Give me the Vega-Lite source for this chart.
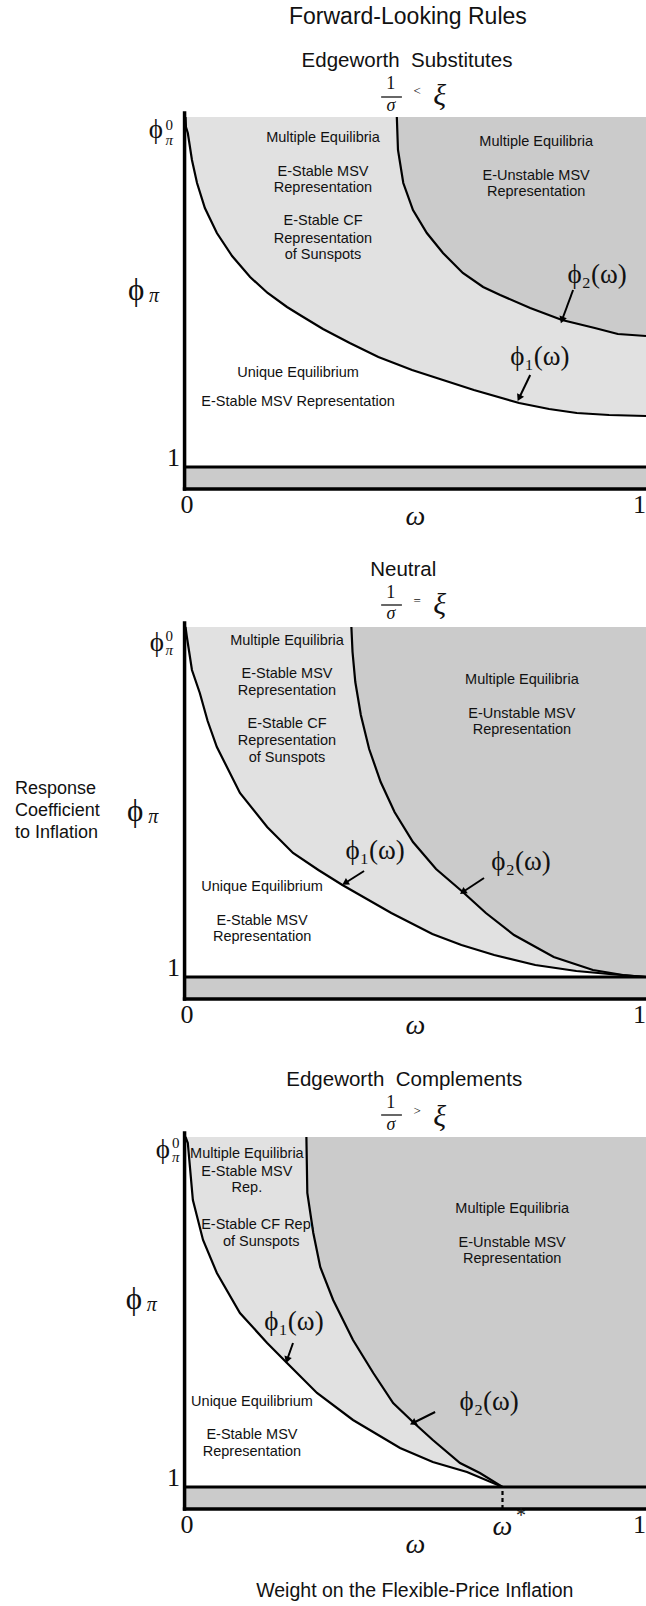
{
  "$schema": "https://vega.github.io/schema/vega-lite/v6.json",
  "padding": 0,
  "background": "white",
  "autosize": {"type": "pad"},
  "config": {"view": {"stroke": null}},
  "data": {"values": [
    {"set":"c","panel":1,"curve":"phi1","x":0.002,"y":4.50},
    {"set":"c","panel":1,"curve":"phi1","x":0.003,"y":4.40},
    {"set":"c","panel":1,"curve":"phi1","x":0.007,"y":4.34},
    {"set":"c","panel":1,"curve":"phi1","x":0.016,"y":4.07},
    {"set":"c","panel":1,"curve":"phi1","x":0.027,"y":3.84},
    {"set":"c","panel":1,"curve":"phi1","x":0.044,"y":3.59},
    {"set":"c","panel":1,"curve":"phi1","x":0.070,"y":3.34},
    {"set":"c","panel":1,"curve":"phi1","x":0.103,"y":3.11},
    {"set":"c","panel":1,"curve":"phi1","x":0.142,"y":2.90},
    {"set":"c","panel":1,"curve":"phi1","x":0.180,"y":2.74},
    {"set":"c","panel":1,"curve":"phi1","x":0.222,"y":2.60},
    {"set":"c","panel":1,"curve":"phi1","x":0.250,"y":2.52},
    {"set":"c","panel":1,"curve":"phi1","x":0.300,"y":2.38},
    {"set":"c","panel":1,"curve":"phi1","x":0.358,"y":2.24},
    {"set":"c","panel":1,"curve":"phi1","x":0.420,"y":2.10},
    {"set":"c","panel":1,"curve":"phi1","x":0.493,"y":1.97},
    {"set":"c","panel":1,"curve":"phi1","x":0.560,"y":1.87},
    {"set":"c","panel":1,"curve":"phi1","x":0.627,"y":1.77},
    {"set":"c","panel":1,"curve":"phi1","x":0.725,"y":1.64},
    {"set":"c","panel":1,"curve":"phi1","x":0.790,"y":1.58},
    {"set":"c","panel":1,"curve":"phi1","x":0.850,"y":1.54},
    {"set":"c","panel":1,"curve":"phi1","x":0.920,"y":1.52},
    {"set":"c","panel":1,"curve":"phi1","x":1.000,"y":1.51},
    {"set":"c","panel":1,"curve":"phi2","x":0.460,"y":4.50},
    {"set":"c","panel":1,"curve":"phi2","x":0.4625,"y":4.17},
    {"set":"c","panel":1,"curve":"phi2","x":0.474,"y":3.84},
    {"set":"c","panel":1,"curve":"phi2","x":0.495,"y":3.57},
    {"set":"c","panel":1,"curve":"phi2","x":0.525,"y":3.34},
    {"set":"c","panel":1,"curve":"phi2","x":0.560,"y":3.14},
    {"set":"c","panel":1,"curve":"phi2","x":0.603,"y":2.94},
    {"set":"c","panel":1,"curve":"phi2","x":0.647,"y":2.80},
    {"set":"c","panel":1,"curve":"phi2","x":0.684,"y":2.72},
    {"set":"c","panel":1,"curve":"phi2","x":0.749,"y":2.59},
    {"set":"c","panel":1,"curve":"phi2","x":0.818,"y":2.47},
    {"set":"c","panel":1,"curve":"phi2","x":0.889,"y":2.39},
    {"set":"c","panel":1,"curve":"phi2","x":0.939,"y":2.33},
    {"set":"c","panel":1,"curve":"phi2","x":0.970,"y":2.32},
    {"set":"c","panel":1,"curve":"phi2","x":1.000,"y":2.31},
    {"set":"c","panel":2,"curve":"phi1","x":0.002,"y":4.50},
    {"set":"c","panel":2,"curve":"phi1","x":0.005,"y":4.40},
    {"set":"c","panel":2,"curve":"phi1","x":0.016,"y":4.07},
    {"set":"c","panel":2,"curve":"phi1","x":0.033,"y":3.84},
    {"set":"c","panel":2,"curve":"phi1","x":0.050,"y":3.56},
    {"set":"c","panel":2,"curve":"phi1","x":0.070,"y":3.30},
    {"set":"c","panel":2,"curve":"phi1","x":0.120,"y":2.84},
    {"set":"c","panel":2,"curve":"phi1","x":0.179,"y":2.50},
    {"set":"c","panel":2,"curve":"phi1","x":0.235,"y":2.24},
    {"set":"c","panel":2,"curve":"phi1","x":0.290,"y":2.07},
    {"set":"c","panel":2,"curve":"phi1","x":0.342,"y":1.92},
    {"set":"c","panel":2,"curve":"phi1","x":0.448,"y":1.64},
    {"set":"c","panel":2,"curve":"phi1","x":0.537,"y":1.43},
    {"set":"c","panel":2,"curve":"phi1","x":0.600,"y":1.32},
    {"set":"c","panel":2,"curve":"phi1","x":0.671,"y":1.22},
    {"set":"c","panel":2,"curve":"phi1","x":0.760,"y":1.12},
    {"set":"c","panel":2,"curve":"phi1","x":0.849,"y":1.06},
    {"set":"c","panel":2,"curve":"phi1","x":0.920,"y":1.03},
    {"set":"c","panel":2,"curve":"phi1","x":1.000,"y":1.00},
    {"set":"c","panel":2,"curve":"phi2","x":0.3615,"y":4.50},
    {"set":"c","panel":2,"curve":"phi2","x":0.364,"y":4.25},
    {"set":"c","panel":2,"curve":"phi2","x":0.370,"y":3.95},
    {"set":"c","panel":2,"curve":"phi2","x":0.382,"y":3.62},
    {"set":"c","panel":2,"curve":"phi2","x":0.400,"y":3.28},
    {"set":"c","panel":2,"curve":"phi2","x":0.425,"y":2.95},
    {"set":"c","panel":2,"curve":"phi2","x":0.455,"y":2.65},
    {"set":"c","panel":2,"curve":"phi2","x":0.495,"y":2.35},
    {"set":"c","panel":2,"curve":"phi2","x":0.545,"y":2.08},
    {"set":"c","panel":2,"curve":"phi2","x":0.603,"y":1.85},
    {"set":"c","panel":2,"curve":"phi2","x":0.653,"y":1.64},
    {"set":"c","panel":2,"curve":"phi2","x":0.714,"y":1.42},
    {"set":"c","panel":2,"curve":"phi2","x":0.800,"y":1.20},
    {"set":"c","panel":2,"curve":"phi2","x":0.885,"y":1.07},
    {"set":"c","panel":2,"curve":"phi2","x":0.950,"y":1.02},
    {"set":"c","panel":2,"curve":"phi2","x":1.000,"y":1.00},
    {"set":"c","panel":3,"curve":"phi1","x":0.002,"y":4.50},
    {"set":"c","panel":3,"curve":"phi1","x":0.007,"y":4.44},
    {"set":"c","panel":3,"curve":"phi1","x":0.018,"y":3.87},
    {"set":"c","panel":3,"curve":"phi1","x":0.040,"y":3.47},
    {"set":"c","panel":3,"curve":"phi1","x":0.070,"y":3.14},
    {"set":"c","panel":3,"curve":"phi1","x":0.120,"y":2.74},
    {"set":"c","panel":3,"curve":"phi1","x":0.179,"y":2.44},
    {"set":"c","panel":3,"curve":"phi1","x":0.222,"y":2.24},
    {"set":"c","panel":3,"curve":"phi1","x":0.287,"y":1.94},
    {"set":"c","panel":3,"curve":"phi1","x":0.365,"y":1.67},
    {"set":"c","panel":3,"curve":"phi1","x":0.467,"y":1.39},
    {"set":"c","panel":3,"curve":"phi1","x":0.538,"y":1.25},
    {"set":"c","panel":3,"curve":"phi1","x":0.612,"y":1.15},
    {"set":"c","panel":3,"curve":"phi1","x":0.689,"y":1.00},
    {"set":"c","panel":3,"curve":"phi1","x":1.000,"y":1.00},
    {"set":"c","panel":3,"curve":"phi2","x":0.264,"y":4.50},
    {"set":"c","panel":3,"curve":"phi2","x":0.266,"y":3.94},
    {"set":"c","panel":3,"curve":"phi2","x":0.279,"y":3.54},
    {"set":"c","panel":3,"curve":"phi2","x":0.294,"y":3.20},
    {"set":"c","panel":3,"curve":"phi2","x":0.322,"y":2.87},
    {"set":"c","panel":3,"curve":"phi2","x":0.365,"y":2.47},
    {"set":"c","panel":3,"curve":"phi2","x":0.409,"y":2.14},
    {"set":"c","panel":3,"curve":"phi2","x":0.452,"y":1.84},
    {"set":"c","panel":3,"curve":"phi2","x":0.495,"y":1.65},
    {"set":"c","panel":3,"curve":"phi2","x":0.538,"y":1.47},
    {"set":"c","panel":3,"curve":"phi2","x":0.597,"y":1.24},
    {"set":"c","panel":3,"curve":"phi2","x":0.640,"y":1.14},
    {"set":"c","panel":3,"curve":"phi2","x":0.689,"y":1.00},
    {"set":"c","panel":3,"curve":"phi2","x":1.000,"y":1.00},

    {"set":"b","panel":1,"x":0,"x2":1,"y":0.78,"y2":1.0},
    {"set":"b","panel":2,"x":0,"x2":1,"y":0.78,"y2":1.0},
    {"set":"b","panel":3,"x":0,"x2":1,"y":0.78,"y2":1.0},

    {"set":"r","kind":"axis","panel":1,"x":0,"x2":0,"y":0.78,"y2":4.54},
    {"set":"r","kind":"axis","panel":1,"x":0,"x2":1,"y":0.78,"y2":0.78},
    {"set":"r","kind":"one","panel":1,"x":0,"x2":1,"y":1,"y2":1},
    {"set":"r","kind":"bar","panel":1,"x":0.426,"x2":0.471,"y":4.70,"y2":4.70},
    {"set":"r","kind":"axis","panel":2,"x":0,"x2":0,"y":0.78,"y2":4.54},
    {"set":"r","kind":"axis","panel":2,"x":0,"x2":1,"y":0.78,"y2":0.78},
    {"set":"r","kind":"one","panel":2,"x":0,"x2":1,"y":1,"y2":1},
    {"set":"r","kind":"bar","panel":2,"x":0.426,"x2":0.471,"y":4.72,"y2":4.72},
    {"set":"r","kind":"axis","panel":3,"x":0,"x2":0,"y":0.78,"y2":4.54},
    {"set":"r","kind":"axis","panel":3,"x":0,"x2":1,"y":0.78,"y2":0.78},
    {"set":"r","kind":"one","panel":3,"x":0,"x2":1,"y":1,"y2":1},
    {"set":"r","kind":"bar","panel":3,"x":0.426,"x2":0.471,"y":4.72,"y2":4.72},
    {"set":"r","kind":"dash","panel":3,"x":0.689,"x2":0.689,"y":0.78,"y2":1.0},

    {"set":"a","panel":1,"x":0.842,"y":2.77,"x2":0.818,"y2":2.47,"angle":200},
    {"set":"a","panel":1,"x":0.749,"y":1.92,"x2":0.725,"y2":1.69,"angle":206},
    {"set":"a","panel":2,"x":0.389,"y":2.06,"x2":0.348,"y2":1.94,"angle":238},
    {"set":"a","panel":2,"x":0.649,"y":1.99,"x2":0.603,"y2":1.85,"angle":236},
    {"set":"a","panel":3,"x":0.235,"y":2.44,"x2":0.222,"y2":2.27,"angle":199},
    {"set":"a","panel":3,"x":0.543,"y":1.75,"x2":0.495,"y2":1.64,"angle":243},

    {"set":"t","role":"head","panel":1,"x":0.484,"y":5.50,"text":"Forward-Looking Rules"},
    {"set":"t","role":"title","panel":1,"x":0.482,"y":5.06,"text":"Edgeworth\u00a0 Substitutes"},
    {"set":"t","role":"num","panel":1,"x":0.447,"y":4.83,"text":"1"},
    {"set":"t","role":"den","panel":1,"x":0.447,"y":4.61,"text":"σ"},
    {"set":"t","role":"rel","panel":1,"x":0.504,"y":4.76,"text":"<"},
    {"set":"t","role":"xi","panel":1,"x":0.553,"y":4.71,"text":"ξ"},
    {"set":"t","role":"note","panel":1,"x":0.300,"y":4.29,"text":"Multiple Equilibria"},
    {"set":"t","role":"note","panel":1,"x":0.300,"y":3.95,"text":"E-Stable MSV"},
    {"set":"t","role":"note","panel":1,"x":0.300,"y":3.79,"text":"Representation"},
    {"set":"t","role":"note","panel":1,"x":0.300,"y":3.46,"text":"E-Stable CF"},
    {"set":"t","role":"note","panel":1,"x":0.300,"y":3.28,"text":"Representation"},
    {"set":"t","role":"note","panel":1,"x":0.300,"y":3.12,"text":"of Sunspots"},
    {"set":"t","role":"note","panel":1,"x":0.762,"y":4.25,"text":"Multiple Equilibria"},
    {"set":"t","role":"note","panel":1,"x":0.762,"y":3.91,"text":"E-Unstable MSV"},
    {"set":"t","role":"note","panel":1,"x":0.762,"y":3.75,"text":"Representation"},
    {"set":"t","role":"note","panel":1,"x":0.246,"y":1.94,"text":"Unique Equilibrium"},
    {"set":"t","role":"note","panel":1,"x":0.246,"y":1.65,"text":"E-Stable MSV Representation"},
    {"set":"t","role":"math","panel":1,"x":0.894,"y":2.92,"text":"ϕ₂(ω)"},
    {"set":"t","role":"math","panel":1,"x":0.770,"y":2.10,"text":"ϕ₁(ω)"},
    {"set":"t","role":"phi0","panel":1,"x":-0.062,"y":4.37,"text":"ϕ"},
    {"set":"t","role":"script","panel":1,"x":-0.033,"y":4.42,"text":"0"},
    {"set":"t","role":"pisub","panel":1,"x":-0.033,"y":4.27,"text":"π"},
    {"set":"t","role":"phi","panel":1,"x":-0.105,"y":2.76,"text":"ϕ"},
    {"set":"t","role":"sub","panel":1,"x":-0.066,"y":2.71,"text":"π"},
    {"set":"t","role":"tick","panel":1,"x":0.005,"y":0.62,"text":"0"},
    {"set":"t","role":"tickR","panel":1,"x":1.0,"y":0.62,"text":"1"},
    {"set":"t","role":"ytick","panel":1,"x":-0.010,"y":1.015,"text":"1"},
    {"set":"t","role":"omega","panel":1,"x":0.50,"y":0.50,"text":"ω"},

    {"set":"t","role":"title","panel":2,"x":0.474,"y":5.07,"text":"Neutral"},
    {"set":"t","role":"num","panel":2,"x":0.447,"y":4.84,"text":"1"},
    {"set":"t","role":"den","panel":2,"x":0.447,"y":4.63,"text":"σ"},
    {"set":"t","role":"rel","panel":2,"x":0.504,"y":4.76,"text":"="},
    {"set":"t","role":"xi","panel":2,"x":0.553,"y":4.72,"text":"ξ"},
    {"set":"t","role":"note","panel":2,"x":0.222,"y":4.36,"text":"Multiple Equilibria"},
    {"set":"t","role":"note","panel":2,"x":0.222,"y":4.03,"text":"E-Stable MSV"},
    {"set":"t","role":"note","panel":2,"x":0.222,"y":3.86,"text":"Representation"},
    {"set":"t","role":"note","panel":2,"x":0.222,"y":3.53,"text":"E-Stable CF"},
    {"set":"t","role":"note","panel":2,"x":0.222,"y":3.36,"text":"Representation"},
    {"set":"t","role":"note","panel":2,"x":0.222,"y":3.19,"text":"of Sunspots"},
    {"set":"t","role":"note","panel":2,"x":0.168,"y":1.90,"text":"Unique Equilibrium"},
    {"set":"t","role":"note","panel":2,"x":0.168,"y":1.56,"text":"E-Stable MSV"},
    {"set":"t","role":"note","panel":2,"x":0.168,"y":1.40,"text":"Representation"},
    {"set":"t","role":"note","panel":2,"x":0.731,"y":3.97,"text":"Multiple Equilibria"},
    {"set":"t","role":"note","panel":2,"x":0.731,"y":3.63,"text":"E-Unstable MSV"},
    {"set":"t","role":"note","panel":2,"x":0.731,"y":3.47,"text":"Representation"},
    {"set":"t","role":"math","panel":2,"x":0.413,"y":2.26,"text":"ϕ₁(ω)"},
    {"set":"t","role":"math","panel":2,"x":0.729,"y":2.15,"text":"ϕ₂(ω)"},
    {"set":"t","role":"phi0","panel":2,"x":-0.060,"y":4.34,"text":"ϕ"},
    {"set":"t","role":"script","panel":2,"x":-0.033,"y":4.41,"text":"0"},
    {"set":"t","role":"pisub","panel":2,"x":-0.033,"y":4.27,"text":"π"},
    {"set":"t","role":"phi","panel":2,"x":-0.107,"y":2.65,"text":"ϕ"},
    {"set":"t","role":"sub","panel":2,"x":-0.068,"y":2.60,"text":"π"},
    {"set":"t","role":"resp","panel":2,"x":-0.3675,"y":2.88,"text":"Response"},
    {"set":"t","role":"resp","panel":2,"x":-0.3675,"y":2.66,"text":"Coefficient"},
    {"set":"t","role":"resp","panel":2,"x":-0.3675,"y":2.44,"text":"to Inflation"},
    {"set":"t","role":"tick","panel":2,"x":0.005,"y":0.62,"text":"0"},
    {"set":"t","role":"tickR","panel":2,"x":1.0,"y":0.62,"text":"1"},
    {"set":"t","role":"ytick","panel":2,"x":-0.010,"y":1.015,"text":"1"},
    {"set":"t","role":"omega","panel":2,"x":0.50,"y":0.51,"text":"ω"},

    {"set":"t","role":"title","panel":3,"x":0.476,"y":5.07,"text":"Edgeworth\u00a0 Complements"},
    {"set":"t","role":"num","panel":3,"x":0.447,"y":4.84,"text":"1"},
    {"set":"t","role":"den","panel":3,"x":0.447,"y":4.62,"text":"σ"},
    {"set":"t","role":"rel","panel":3,"x":0.504,"y":4.76,"text":">"},
    {"set":"t","role":"xi","panel":3,"x":0.553,"y":4.70,"text":"ξ"},
    {"set":"t","role":"note","panel":3,"x":0.135,"y":4.33,"text":"Multiple Equilibria"},
    {"set":"t","role":"note","panel":3,"x":0.135,"y":4.15,"text":"E-Stable MSV"},
    {"set":"t","role":"note","panel":3,"x":0.135,"y":3.99,"text":"Rep."},
    {"set":"t","role":"note","panel":3,"x":0.159,"y":3.62,"text":"E-Stable CF Rep."},
    {"set":"t","role":"note","panel":3,"x":0.166,"y":3.45,"text":"of Sunspots"},
    {"set":"t","role":"note","panel":3,"x":0.146,"y":1.85,"text":"Unique Equilibrium"},
    {"set":"t","role":"note","panel":3,"x":0.146,"y":1.52,"text":"E-Stable MSV"},
    {"set":"t","role":"note","panel":3,"x":0.146,"y":1.35,"text":"Representation"},
    {"set":"t","role":"note","panel":3,"x":0.710,"y":3.78,"text":"Multiple Equilibria"},
    {"set":"t","role":"note","panel":3,"x":0.710,"y":3.44,"text":"E-Unstable MSV"},
    {"set":"t","role":"note","panel":3,"x":0.710,"y":3.28,"text":"Representation"},
    {"set":"t","role":"math","panel":3,"x":0.237,"y":2.65,"text":"ϕ₁(ω)"},
    {"set":"t","role":"math","panel":3,"x":0.660,"y":1.85,"text":"ϕ₂(ω)"},
    {"set":"t","role":"phi0","panel":3,"x":-0.047,"y":4.37,"text":"ϕ"},
    {"set":"t","role":"script","panel":3,"x":-0.019,"y":4.44,"text":"0"},
    {"set":"t","role":"pisub","panel":3,"x":-0.019,"y":4.30,"text":"π"},
    {"set":"t","role":"phi","panel":3,"x":-0.110,"y":2.87,"text":"ϕ"},
    {"set":"t","role":"sub","panel":3,"x":-0.071,"y":2.82,"text":"π"},
    {"set":"t","role":"tick","panel":3,"x":0.005,"y":0.62,"text":"0"},
    {"set":"t","role":"tickR","panel":3,"x":1.0,"y":0.62,"text":"1"},
    {"set":"t","role":"ytick","panel":3,"x":-0.010,"y":1.015,"text":"1"},
    {"set":"t","role":"omega","panel":3,"x":0.689,"y":0.60,"text":"ω"},
    {"set":"t","role":"star","panel":3,"x":0.729,"y":0.71,"text":"*"},
    {"set":"t","role":"omega","panel":3,"x":0.50,"y":0.42,"text":"ω"},
    {"set":"t","role":"xlab","panel":3,"x":0.499,"y":-0.04,"text":"Weight on the Flexible-Price Inflation"}
  ]},
  "facet": {"row": {"field": "panel", "type": "ordinal", "header": null}},
  "spacing": 0,
  "bounds": "flush",
  "spec": {
    "width": 646,
    "height": 510,
    "encoding": {
      "x": {"field": "x", "type": "quantitative", "scale": {"domain": [-0.4, 1.0], "nice": false, "zero": false}, "axis": null},
      "y": {"field": "y", "type": "quantitative", "scale": {"domain": [0.57, 5.67], "nice": false, "zero": false}, "axis": null}
    },
    "layer": [
      {"transform": [{"filter": "datum.set === 'c' && datum.curve === 'phi1'"}],
       "mark": {"type": "area", "color": "#e1e1e1", "clip": true},
       "encoding": {"y2": {"datum": 4.5}}},
      {"transform": [{"filter": "datum.set === 'c' && datum.curve === 'phi2'"}],
       "mark": {"type": "area", "color": "#cbcbcb", "clip": true},
       "encoding": {"y2": {"datum": 4.5}}},
      {"transform": [{"filter": "datum.set === 'b'"}],
       "mark": {"type": "rect", "color": "#cbcbcb", "clip": true},
       "encoding": {"x2": {"field": "x2"}, "y2": {"field": "y2"}}},
      {"transform": [{"filter": "datum.set === 'c'"}],
       "mark": {"type": "line", "color": "black", "strokeWidth": 2.2, "clip": true},
       "encoding": {"detail": {"field": "curve"}}},
      {"transform": [{"filter": "datum.set === 'r' && datum.kind === 'one'"}],
       "mark": {"type": "rule", "color": "black", "strokeWidth": 2.8, "clip": true},
       "encoding": {"x2": {"field": "x2"}, "y2": {"field": "y2"}}},
      {"transform": [{"filter": "datum.set === 'r' && datum.kind === 'axis'"}],
       "mark": {"type": "rule", "color": "black", "strokeWidth": 3.5, "strokeCap": "square", "clip": true},
       "encoding": {"x2": {"field": "x2"}, "y2": {"field": "y2"}}},
      {"transform": [{"filter": "datum.set === 'r' && datum.kind === 'dash'"}],
       "mark": {"type": "rule", "color": "black", "strokeWidth": 2.2, "strokeDash": [4, 3]},
       "encoding": {"x2": {"field": "x2"}, "y2": {"field": "y2"}}},
      {"transform": [{"filter": "datum.set === 'r' && datum.kind === 'bar'"}],
       "mark": {"type": "rule", "color": "black", "strokeWidth": 1.2},
       "encoding": {"x2": {"field": "x2"}, "y2": {"field": "y2"}}},
      {"transform": [{"filter": "datum.set === 'a'"}],
       "mark": {"type": "rule", "color": "black", "strokeWidth": 2},
       "encoding": {"x2": {"field": "x2"}, "y2": {"field": "y2"}}},
      {"transform": [{"filter": "datum.set === 'a'"}],
       "mark": {"type": "point", "shape": "triangle-up", "filled": true, "color": "black", "opacity": 1, "size": 60},
       "encoding": {
         "x": {"field": "x2", "type": "quantitative", "axis": null},
         "y": {"field": "y2", "type": "quantitative", "axis": null},
         "angle": {"field": "angle", "type": "quantitative", "scale": null}}},
      {"transform": [{"filter": "datum.set === 't' && datum.role === 'note'"}],
       "mark": {"type": "text", "font": "Liberation Sans", "fontSize": 14.5, "align": "center", "baseline": "middle", "color": "#111"},
       "encoding": {"text": {"field": "text"}}},
      {"transform": [{"filter": "datum.set === 't' && datum.role === 'head'"}],
       "mark": {"type": "text", "font": "Liberation Sans", "fontSize": 23, "align": "center", "baseline": "middle", "color": "#111"},
       "encoding": {"text": {"field": "text"}}},
      {"transform": [{"filter": "datum.set === 't' && datum.role === 'title'"}],
       "mark": {"type": "text", "font": "Liberation Sans", "fontSize": 20.5, "align": "center", "baseline": "middle", "color": "#111"},
       "encoding": {"text": {"field": "text"}}},
      {"transform": [{"filter": "datum.set === 't' && datum.role === 'num'"}],
       "mark": {"type": "text", "font": "Liberation Serif", "fontSize": 18, "align": "center", "baseline": "middle", "color": "#111"},
       "encoding": {"text": {"field": "text"}}},
      {"transform": [{"filter": "datum.set === 't' && datum.role === 'den'"}],
       "mark": {"type": "text", "font": "Liberation Serif", "fontSize": 18, "fontStyle": "italic", "align": "center", "baseline": "middle", "color": "#111"},
       "encoding": {"text": {"field": "text"}}},
      {"transform": [{"filter": "datum.set === 't' && datum.role === 'rel'"}],
       "mark": {"type": "text", "font": "Liberation Serif", "fontSize": 13, "align": "center", "baseline": "middle", "color": "#111"},
       "encoding": {"text": {"field": "text"}}},
      {"transform": [{"filter": "datum.set === 't' && datum.role === 'xi'"}],
       "mark": {"type": "text", "font": "Liberation Serif", "fontSize": 30, "fontStyle": "italic", "align": "center", "baseline": "middle", "color": "#111"},
       "encoding": {"text": {"field": "text"}}},
      {"transform": [{"filter": "datum.set === 't' && datum.role === 'math'"}],
       "mark": {"type": "text", "font": "Liberation Serif", "fontSize": 27, "align": "center", "baseline": "middle", "color": "#111"},
       "encoding": {"text": {"field": "text"}}},
      {"transform": [{"filter": "datum.set === 't' && datum.role === 'phi0'"}],
       "mark": {"type": "text", "font": "Liberation Serif", "fontSize": 27, "align": "center", "baseline": "middle", "color": "#111"},
       "encoding": {"text": {"field": "text"}}},
      {"transform": [{"filter": "datum.set === 't' && datum.role === 'script'"}],
       "mark": {"type": "text", "font": "Liberation Serif", "fontSize": 15, "align": "center", "baseline": "middle", "color": "#111"},
       "encoding": {"text": {"field": "text"}}},
      {"transform": [{"filter": "datum.set === 't' && datum.role === 'pisub'"}],
       "mark": {"type": "text", "font": "Liberation Serif", "fontSize": 15, "fontStyle": "italic", "align": "center", "baseline": "middle", "color": "#111"},
       "encoding": {"text": {"field": "text"}}},
      {"transform": [{"filter": "datum.set === 't' && datum.role === 'phi'"}],
       "mark": {"type": "text", "font": "Liberation Serif", "fontSize": 31, "align": "center", "baseline": "middle", "color": "#111"},
       "encoding": {"text": {"field": "text"}}},
      {"transform": [{"filter": "datum.set === 't' && datum.role === 'sub'"}],
       "mark": {"type": "text", "font": "Liberation Serif", "fontSize": 20, "fontStyle": "italic", "align": "center", "baseline": "middle", "color": "#111"},
       "encoding": {"text": {"field": "text"}}},
      {"transform": [{"filter": "datum.set === 't' && datum.role === 'tick'"}],
       "mark": {"type": "text", "font": "Liberation Serif", "fontSize": 26, "align": "center", "baseline": "middle", "color": "#111"},
       "encoding": {"text": {"field": "text"}}},
      {"transform": [{"filter": "datum.set === 't' && datum.role === 'tickR'"}],
       "mark": {"type": "text", "font": "Liberation Serif", "fontSize": 26, "align": "right", "baseline": "middle", "color": "#111"},
       "encoding": {"text": {"field": "text"}}},
      {"transform": [{"filter": "datum.set === 't' && datum.role === 'ytick'"}],
       "mark": {"type": "text", "font": "Liberation Serif", "fontSize": 26, "align": "right", "baseline": "alphabetic", "color": "#111"},
       "encoding": {"text": {"field": "text"}}},
      {"transform": [{"filter": "datum.set === 't' && datum.role === 'omega'"}],
       "mark": {"type": "text", "font": "Liberation Serif", "fontSize": 28, "fontStyle": "italic", "align": "center", "baseline": "middle", "color": "#111"},
       "encoding": {"text": {"field": "text"}}},
      {"transform": [{"filter": "datum.set === 't' && datum.role === 'star'"}],
       "mark": {"type": "text", "font": "Liberation Serif", "fontSize": 20, "align": "center", "baseline": "middle", "color": "#111"},
       "encoding": {"text": {"field": "text"}}},
      {"transform": [{"filter": "datum.set === 't' && datum.role === 'resp'"}],
       "mark": {"type": "text", "font": "Liberation Sans", "fontSize": 18, "align": "left", "baseline": "middle", "color": "#111"},
       "encoding": {"text": {"field": "text"}}},
      {"transform": [{"filter": "datum.set === 't' && datum.role === 'xlab'"}],
       "mark": {"type": "text", "font": "Liberation Sans", "fontSize": 19.5, "align": "center", "baseline": "middle", "color": "#111"},
       "encoding": {"text": {"field": "text"}}}
    ]
  }
}
